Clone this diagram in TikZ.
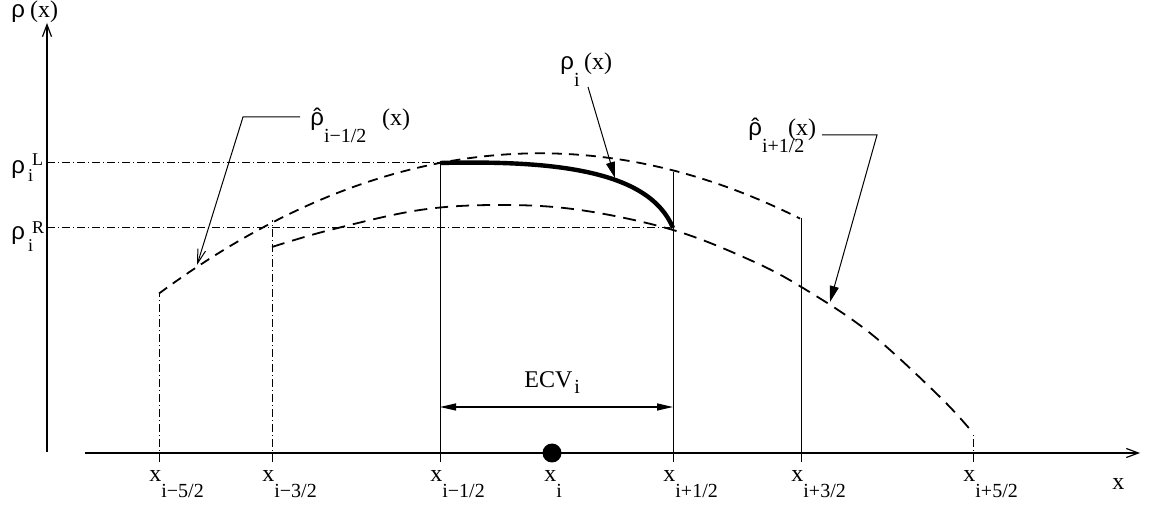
\documentclass[tikz,border=0pt]{standalone}
\usepackage{fontspec}
\setmainfont{Liberation Serif}
\newfontfamily\grk{Liberation Sans}
\usetikzlibrary{arrows.meta}
\newcommand{\rh}{{\grk ρ}}
\newcommand{\rhhat}{\rlap{\grk\kern0.12em ˆ}\rh}
\newcommand{\dsub}[1]{\raisebox{-8.5pt}{\fontsize{10}{12}\selectfont #1}}
\newcommand{\smsub}[1]{{\fontsize{9}{10}\selectfont #1}}
\tikzset{
  axisln/.style={line width=0.6pt, -{Straight Barb[length=6pt,width=4.5pt]}},
  facefull/.style={line width=0.5pt},
  dashdot/.style={line width=0.5pt, dash pattern=on 4pt off 1.5pt on 0.5pt off 1.5pt},
  recon/.style={line width=0.9pt, dash pattern=on 5pt off 3.5pt},
  recontwo/.style={line width=0.9pt, dash pattern=on 6.5pt off 4pt},
  ptr/.style={line width=0.5pt, -{Triangle[length=8pt,width=4.5pt]}},
  ptro/.style={line width=0.5pt, -{Straight Barb[length=7pt,width=4pt]}},
  ecvarr/.style={line width=0.6pt, {Triangle[length=8pt,width=3.5pt]}-{Triangle[length=8pt,width=3.5pt]}},
  lbl/.style={inner sep=0pt, anchor=base west, font=\fontsize{12}{14}\selectfont},
}
\begin{document}
\begin{tikzpicture}[x=0.5pt, y=-0.5pt]
  \useasboundingbox (0,0) rectangle (1149,506);
  % axes
  \coordinate (yb) at (47,452);
  \coordinate (yt) at (47,23);
  \coordinate (xl) at (85,453);
  \coordinate (xr) at (1140,453);
  \draw[axisln] (yb) -- (yt);
  \draw[axisln] (xl) -- (xr);
  \node[lbl] (rhy) at (11,18) {\rh\kern2.5pt(x)};
  \node[lbl] (xax) at (1112,490) {x};

  % cell faces and their labels
  \foreach \n/\xx/\yy/\sty/\idx in {a/159/293/dashdot/{i−5/2}, b/272/220/dashdot/{i−3/2},
      c/440/163/facefull/{i−1/2}, d/673/172/facefull/{i+1/2},
      e/801/218/facefull/{i+3/2}, f/973/433/dashdot/{i+5/2}} {
    \coordinate (bot\n) at (\xx,462);
    \coordinate (top\n) at (\xx,\yy);
    \draw[\sty] (bot\n) -- (top\n);
    \node[lbl] (x\n) at (\xx-10,481) {x\dsub{\idx}};
  }
  \node[circle, fill, inner sep=0pt, minimum size=9.5pt] (xi) at (552,453) {};
  \node[lbl] (xilab) at (544,481) {x\dsub{i}};

  % reconstructions
  \draw[recon] plot[domain=159:800, samples=80] (\x,{153.3+9.66*((\x-540)/100)^2});
  \draw[recontwo] plot[smooth, tension=0.6] coordinates {(272,247) (330,230) (420,210)
      (500,205) (580,210) (673,230) (750,260) (803,288) (870,333) (940,397) (973,433)};
  \coordinate (sL) at (440,163);
  \coordinate (sR) at (673,228);
  \draw[line width=2.2pt] (sL) .. controls (560,160) and (650,172) .. (sR);

  % left and right states
  \coordinate (lvlL) at (47,163);
  \coordinate (lvlR) at (47,228);
  \draw[dashdot] (lvlL) -- (sL);
  \draw[dashdot] (lvlR) -- (sR);
  \node[lbl] (rhoL) at (11,174) {\rh\kern1.5pt\rlap{\raisebox{-4pt}{\smsub{i}}}\kern2pt\raisebox{4pt}{\smsub{L}}};
  \node[lbl] (rhoR) at (11,240) {\rh\kern1.5pt\rlap{\raisebox{-6pt}{\smsub{i}}}\kern2pt\raisebox{3pt}{\smsub{R}}};

  % ECV
  \coordinate (eL) at (440,407);
  \coordinate (eR) at (673,407);
  \draw[ecvarr] (eL) -- (eR);
  \node[lbl] (ecv) at (524,388) {ECV\raisebox{-3pt}{\fontsize{10}{12}\selectfont\kern1pt i}};

  % pointers
  \node[lbl] (rhi) at (560,70) {\rh\rlap{\dsub{i}}\kern5pt(x)};
  \coordinate (aI0) at (588,87);
  \coordinate (aI1) at (615,178);
  \draw[ptr] (aI0) -- (aI1);

  \node[lbl] (rhL) at (310,126) {\rhhat\rlap{\dsub{i−1/2}}\kern29pt(x)};
  \coordinate (aL0) at (300,117);
  \coordinate (aL1) at (243,117);
  \coordinate (aL2) at (197,265);
  \draw[ptro] (aL0) -- (aL1) -- (aL2);

  \node[lbl] (rhR) at (748,136) {\rhhat\rlap{\dsub{i+1/2}}\kern13pt(x)};
  \coordinate (aR0) at (822,135);
  \coordinate (aR1) at (877,135);
  \coordinate (aR2) at (830,302);
  \draw[ptr] (aR0) -- (aR1) -- (aR2);
\end{tikzpicture}
\end{document}
